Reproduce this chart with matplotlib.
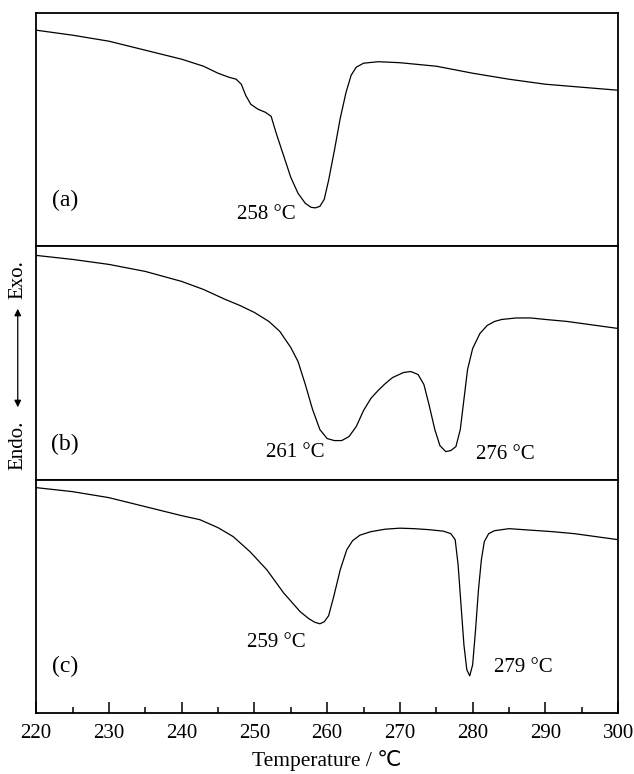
import matplotlib
matplotlib.use('Agg')
import matplotlib.pyplot as plt
from matplotlib.ticker import MultipleLocator

# DSC traces, heat flow in arbitrary units
temp_a = [220, 225, 230, 235, 240, 243, 245, 246.5, 247.5, 248.2, 248.8, 249.5, 250.5, 251.5,
          252.3, 253, 254, 255, 256, 257, 257.8, 258.4, 259, 259.6, 260.2, 261, 261.8, 262.6,
          263.3, 264, 265, 267, 270, 275, 280, 285, 290, 295, 300]
flow_a = [216, 211, 205, 196, 187, 180, 173, 169, 167, 162, 151, 142, 137, 134,
          130, 113, 91, 69, 53, 43, 39, 38.5, 40, 47, 66, 96, 128, 154,
          171, 179, 183, 184.5, 183.5, 180, 173, 167, 162, 159, 156]

temp_b = [220, 225, 230, 235, 240, 243, 246, 248, 250, 252, 253.5, 255, 256, 257, 258, 259,
          260, 261, 262, 263, 264, 265, 266, 267, 268, 269, 270.5, 271.5, 272.5, 273.3, 274,
          274.8, 275.5, 276.3, 277, 277.7, 278.3, 278.8, 279.3, 280, 281, 282, 283, 284, 286,
          288, 290, 293, 296, 300]
flow_b = [224, 220, 215, 208, 198, 190, 180, 174, 167, 158, 148, 132, 118, 95, 70, 50,
          41, 39, 39, 43, 53, 69, 81, 89, 96, 102, 107, 108, 105, 95, 75,
          50, 34, 28, 29, 33, 50, 80, 110, 131, 146, 154, 158, 160, 161.5,
          161.5, 160, 158, 155, 151]

temp_c = [220, 225, 230, 235, 240, 242.5, 245, 247.1, 249.4, 251.7, 254, 256.3, 257.5, 258.3,
          259, 259.6, 260.2, 260.9, 261.8, 262.7, 263.5, 264.5, 266, 268, 270, 272, 274, 276,
          277, 277.6, 278, 278.4, 278.8, 279.2, 279.6, 280, 280.4, 280.8, 281.2, 281.6, 282.2,
          283, 285, 288, 291, 294, 297, 300]
flow_c = [225, 221, 215, 206, 197, 193, 185, 176, 161, 143, 120, 101, 94, 90.5,
          89, 91, 97, 116, 143, 163, 172, 177.5, 181, 183.5, 184.5, 184, 183, 181.5,
          179, 173, 148, 108, 68, 43, 37, 48, 83, 123, 153, 171, 179,
          182, 184, 182.5, 181, 179, 176, 173]

peaks_a = ['258 °C']
peaks_b = ['261 °C', '276 °C']
peaks_c = ['259 °C', '279 °C']

plt.rcParams['font.family'] = ['Liberation Serif', 'DejaVu Sans']

fig, axes = plt.subplots(3, 1, figsize=(6.34, 7.74), dpi=100, sharex=True)
fig.subplots_adjust(left=0.057, right=0.975, top=0.983, bottom=0.079, hspace=0)

traces = [(temp_a, flow_a), (temp_b, flow_b), (temp_c, flow_c)]
for ax, (t, f) in zip(axes, traces):
    ax.plot(t, f, color='black', lw=0.9)
    ax.set_ylim(0, 233)
    ax.set_yticks([])
    for sp in ax.spines.values():
        sp.set_linewidth(1.3)
    ax.tick_params(axis='x', which='both', bottom=False, top=False, labelbottom=False)

ax = axes[2]
ax.set_xlim(220, 300)
ax.xaxis.set_major_locator(MultipleLocator(10))
ax.xaxis.set_minor_locator(MultipleLocator(5))
ax.tick_params(axis='x', which='both', bottom=True, labelbottom=True, direction='in',
               labelsize=15, width=1.1, pad=8)
ax.tick_params(axis='x', which='major', length=8)
ax.tick_params(axis='x', which='minor', length=4.5)
ax.set_xlabel('Temperature / ℃', fontsize=15.5, labelpad=5)

# panel labels and peak temperatures
axes[0].text(224, 46, '(a)', fontsize=17, ha='center', va='center')
axes[0].text(251.6, 32, peaks_a[0], fontsize=15, ha='center', va='center')

axes[1].text(224, 35, '(b)', fontsize=17, ha='center', va='center')
axes[1].text(255.6, 27, peaks_b[0], fontsize=15, ha='center', va='center')
axes[1].text(284.5, 25, peaks_b[1], fontsize=15, ha='center', va='center')

axes[2].text(224, 46, '(c)', fontsize=17, ha='center', va='center')
axes[2].text(253, 70, peaks_c[0], fontsize=15, ha='center', va='center')
axes[2].text(287, 45, peaks_c[1], fontsize=15, ha='center', va='center')

# Exo / Endo direction marker
fig.text(0.028, 1 - 280 / 774, 'Exo.', rotation=90, fontsize=15, ha='center', va='center')
fig.text(0.028, 1 - 445 / 774, 'Endo.', rotation=90, fontsize=15, ha='center', va='center')
fig.add_artist(matplotlib.patches.FancyArrowPatch(
    (0.028, 1 - 410 / 774), (0.028, 1 - 306 / 774), transform=fig.transFigure,
    arrowstyle='<|-|>', mutation_scale=10, color='black', lw=0.9))

fig.savefig('out.png', dpi=100)
